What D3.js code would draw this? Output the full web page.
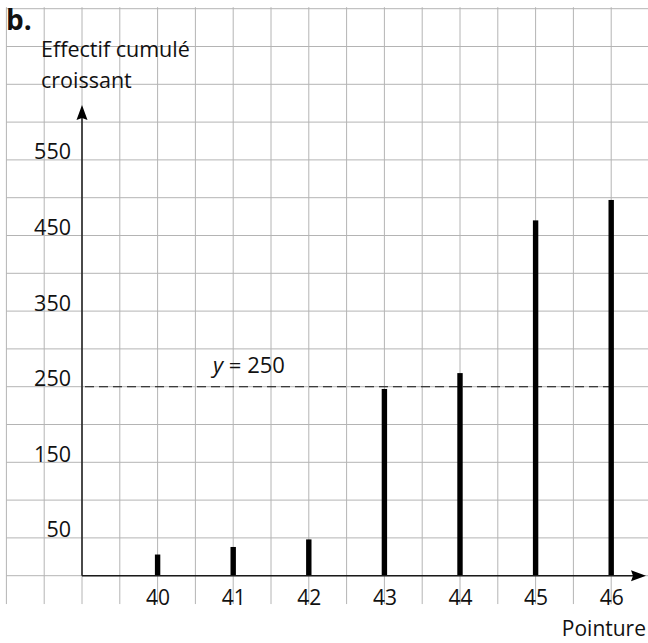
<!DOCTYPE html>
<html>
<head>
<meta charset="utf-8">
<script src="https://cdn.jsdelivr.net/npm/d3@7"></script>
<style>
  body { margin: 0; background: #fff; }
  svg text { font-family: "Open Sans", "Noto Sans", sans-serif; fill: #111; }
</style>
</head>
<body>
<div id="chart"></div>
<script>
// pointures et effectifs cumulés croissants
const pointures = [40, 41, 42, 43, 44, 45, 46];
const effectifs = [28, 38, 48, 247, 268, 470, 497];
const yTicks = [50, 150, 250, 350, 450, 550];
const seuil = 250;

(function() {
  const width = 648, height = 643;

  const svg = d3.select("#chart")
    .append("svg")
      .attr("width", width)
      .attr("height", height);

  // one grid cell = half a pointure horizontally, 50 vertically
  const x = d3.scaleLinear().domain([39, 46]).range([82, 611.2]);
  const y = d3.scaleLinear().domain([0, 750]).range([575.7, 8.7]);

  // graph paper
  const grid = svg.append("g").attr("stroke", "#b4b4b4").attr("stroke-width", 1);
  grid.selectAll("line.v")
    .data(d3.range(38, 46.6, 0.5))
    .enter().append("line")
      .attr("x1", d => x(d)).attr("x2", d => x(d))
      .attr("y1", y(750) - 1.5).attr("y2", y(-37.5));
  grid.selectAll("line.h")
    .data(d3.range(0, 751, 50))
    .enter().append("line")
      .attr("x1", x(38)).attr("x2", width)
      .attr("y1", d => y(d)).attr("y2", d => y(d));

  // y = 250 dashed line
  svg.append("line")
    .attr("x1", x(39) + 3).attr("x2", x(46))
    .attr("y1", y(seuil)).attr("y2", y(seuil))
    .attr("stroke", "#111")
    .attr("stroke-width", 1.1)
    .attr("stroke-dasharray", "9,5");

  // bars (sticks)
  svg.selectAll("rect.bar")
    .data(pointures)
    .enter().append("rect")
      .attr("class", "bar")
      .attr("x", d => x(d) - 2.7)
      .attr("width", 5.4)
      .attr("y", (d, i) => y(effectifs[i]))
      .attr("height", (d, i) => y(0) - y(effectifs[i]))
      .attr("fill", "#000");

  // axes with arrows
  const axes = svg.append("g").attr("stroke", "#1a1a1a").attr("stroke-width", 1.5);
  axes.append("line")
    .attr("x1", x(39)).attr("x2", 634)
    .attr("y1", y(0)).attr("y2", y(0));
  axes.append("line")
    .attr("x1", x(39)).attr("x2", x(39))
    .attr("y1", y(0)).attr("y2", 118);
  svg.append("path")
    .attr("d", `M646,${y(0)} L631,${y(0) - 5.5} L633,${y(0)} L631,${y(0) + 5.5} Z`)
    .attr("fill", "#000");
  svg.append("path")
    .attr("d", `M${x(39)},105 L${x(39) - 5.5},120 L${x(39)},118 L${x(39) + 5.5},120 Z`)
    .attr("fill", "#000");

  // x tick labels
  svg.append("g")
    .attr("transform", `translate(0, ${y(0)})`)
    .call(d3.axisBottom(x).tickValues(pointures).tickSize(0).tickPadding(14).tickFormat(d3.format("d")))
    .call(g => g.select(".domain").remove())
    .call(g => g.selectAll("text")
      .attr("font-size", 21).attr("font-family", null).attr("fill", "#111"));

  // y tick labels, baseline sitting on the grid line
  svg.append("g")
    .attr("transform", "translate(71, 0)")
    .call(d3.axisLeft(y).tickValues(yTicks).tickSize(0).tickPadding(0))
    .call(g => g.select(".domain").remove())
    .call(g => g.selectAll("text")
      .attr("font-size", 21.5).attr("font-family", null).attr("fill", "#111")
      .attr("dy", "-0.05em"));

  // labels
  svg.append("text")
    .attr("x", 6).attr("y", 30)
    .attr("font-size", 28).attr("font-weight", "bold")
    .text("b.");
  svg.append("text")
    .attr("x", 41).attr("y", 57)
    .attr("font-size", 21.5)
    .text("Effectif cumulé");
  svg.append("text")
    .attr("x", 41).attr("y", 88)
    .attr("font-size", 21.5)
    .text("croissant");
  svg.append("text")
    .attr("x", 646).attr("y", 636)
    .attr("text-anchor", "end")
    .attr("font-size", 21)
    .text("Pointure");

  const lab = svg.append("text")
    .attr("x", 213).attr("y", 373)
    .attr("font-size", 22);
  lab.append("tspan").attr("font-style", "italic").text("y");
  lab.append("tspan").text(" = 250");
})();
</script>
</body>
</html>
